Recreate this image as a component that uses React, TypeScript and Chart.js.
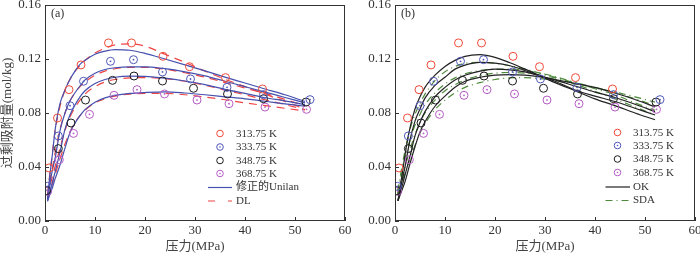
import React, { useEffect, useRef } from "react";
import { Chart, registerables } from "chart.js";
Chart.register(...registerables);

const SERIF = "'Liberation Serif', 'Times New Roman', 'Noto Sans CJK SC', serif";

// ---- measured data (same in both panels) ----
const TEMPS = ["313.75 K", "333.75 K", "348.75 K", "368.75 K"];
const P_313 = [0.8, 2.5, 4.8, 7.2, 12.7, 17.3, 23.6, 28.9, 36.1, 43.5];
const Q_313 = [0.0393, 0.0763, 0.0973, 0.1156, 0.1319, 0.1319, 0.122, 0.1143, 0.1062, 0.0978];
const P_333 = [0.47, 2.67, 5.0, 7.7, 13.1, 17.7, 23.5, 29.1, 36.4, 43.7, 53.0];
const Q_333 = [0.0257, 0.063, 0.0854, 0.1035, 0.1183, 0.1195, 0.1104, 0.1052, 0.099, 0.0936, 0.0899];
const P_348 = [0.33, 2.67, 5.2, 8.1, 13.5, 17.8, 23.5, 29.7, 36.5, 43.7, 52.2];
const Q_348 = [0.0225, 0.0536, 0.0726, 0.0896, 0.1042, 0.1074, 0.1037, 0.0983, 0.0941, 0.0906, 0.0881];
const P_368 = [0.53, 2.87, 5.7, 8.9, 13.8, 18.4, 23.9, 30.4, 36.8, 44.0, 52.3];
const Q_368 = [0.022, 0.0454, 0.0649, 0.079, 0.0931, 0.0973, 0.0941, 0.0896, 0.0869, 0.0844, 0.0827];

// ---- panel (a) model curves ----
const MODEL_P = [0.5, 1, 1.5, 2, 3, 4, 5, 6, 7, 8, 10, 12, 14, 17, 20, 24, 28, 32, 36, 40, 44, 48, 52];
const UNILAN_313 = [0.017, 0.035, 0.05, 0.067, 0.087, 0.097, 0.105, 0.111, 0.116, 0.119, 0.1235, 0.1258, 0.127, 0.1265, 0.1242, 0.12, 0.1157, 0.1112, 0.1066, 0.1022, 0.0978, 0.0935, 0.0885];
const UNILAN_333 = [0.016, 0.028, 0.038, 0.046, 0.067, 0.08, 0.089, 0.095, 0.1, 0.1045, 0.1095, 0.1122, 0.1135, 0.1142, 0.1142, 0.1128, 0.1105, 0.1075, 0.1035, 0.0995, 0.0955, 0.0915, 0.0875];
const UNILAN_348 = [0.015, 0.022, 0.029, 0.036, 0.051, 0.068, 0.0785, 0.086, 0.092, 0.0965, 0.1018, 0.1048, 0.1065, 0.1073, 0.1072, 0.1058, 0.1037, 0.101, 0.0975, 0.0945, 0.0913, 0.089, 0.0862];
const UNILAN_368 = [0.0145, 0.02, 0.025, 0.031, 0.0415, 0.054, 0.0655, 0.0725, 0.078, 0.0825, 0.088, 0.0912, 0.093, 0.0945, 0.0952, 0.0957, 0.0948, 0.0935, 0.092, 0.0905, 0.0887, 0.0868, 0.085];
const DL_313 = [0.02, 0.036, 0.051, 0.066, 0.085, 0.097, 0.105, 0.111, 0.115, 0.119, 0.1245, 0.128, 0.1305, 0.1312, 0.1295, 0.1235, 0.1175, 0.111, 0.105, 0.0995, 0.094, 0.0885, 0.083];
const DL_333 = [0.018, 0.03, 0.04, 0.05, 0.068, 0.08, 0.089, 0.095, 0.0995, 0.103, 0.108, 0.111, 0.1128, 0.1138, 0.1138, 0.1125, 0.1098, 0.1065, 0.1025, 0.0985, 0.0945, 0.09, 0.0855];
const DL_348 = [0.017, 0.026, 0.033, 0.04, 0.054, 0.067, 0.077, 0.084, 0.0895, 0.094, 0.0995, 0.103, 0.1048, 0.106, 0.1062, 0.1055, 0.1035, 0.1005, 0.097, 0.0935, 0.0898, 0.0862, 0.0825];
const DL_368 = [0.016, 0.023, 0.028, 0.034, 0.046, 0.057, 0.066, 0.073, 0.078, 0.082, 0.0875, 0.0905, 0.0925, 0.094, 0.0945, 0.0945, 0.0935, 0.0918, 0.0898, 0.0875, 0.0855, 0.0835, 0.0815];

// ---- panel (b) model curves ----
const OK_P = [0.6, 1, 1.5, 2, 3, 4, 5, 6, 8, 10, 12, 14, 17, 20, 23, 26, 29, 32, 36, 40, 44, 48, 52];
const OK_313 = [0.015, 0.025, 0.036, 0.049, 0.069, 0.083, 0.092, 0.099, 0.108, 0.1145, 0.119, 0.122, 0.1232, 0.1212, 0.1172, 0.1125, 0.1075, 0.1025, 0.0965, 0.0905, 0.0855, 0.08, 0.075];
const OK_333 = [0.015, 0.023, 0.031, 0.04, 0.06, 0.074, 0.083, 0.091, 0.1005, 0.1065, 0.1125, 0.1155, 0.1175, 0.117, 0.115, 0.1115, 0.1075, 0.1035, 0.097, 0.0925, 0.0885, 0.0835, 0.0785];
const OK_348 = [0.015, 0.021, 0.027, 0.034, 0.048, 0.063, 0.073, 0.081, 0.092, 0.099, 0.1045, 0.108, 0.111, 0.1125, 0.112, 0.1105, 0.1075, 0.1045, 0.1, 0.0955, 0.0915, 0.0865, 0.081];
const OK_368 = [0.015, 0.019, 0.024, 0.029, 0.0425, 0.055, 0.066, 0.0735, 0.085, 0.0925, 0.099, 0.1035, 0.1065, 0.108, 0.1085, 0.108, 0.1068, 0.1048, 0.102, 0.099, 0.0948, 0.09, 0.0845];
const SDA_P = [0.5, 1, 2, 3, 4, 5, 6, 8, 10, 12, 14, 17, 20, 23, 26, 29, 32, 36, 40, 44, 48, 52];
const SDA_313 = [0.022, 0.032, 0.052, 0.068, 0.079, 0.087, 0.094, 0.104, 0.1105, 0.1145, 0.1168, 0.1175, 0.1168, 0.115, 0.1125, 0.1095, 0.1065, 0.1015, 0.096, 0.0905, 0.0845, 0.0785];
const SDA_333 = [0.021, 0.029, 0.046, 0.06, 0.071, 0.079, 0.086, 0.095, 0.1015, 0.106, 0.109, 0.1115, 0.1125, 0.1125, 0.1115, 0.1095, 0.107, 0.1025, 0.098, 0.0935, 0.0875, 0.082];
const SDA_348 = [0.02, 0.026, 0.04, 0.053, 0.064, 0.073, 0.08, 0.0895, 0.0965, 0.101, 0.1045, 0.1078, 0.1095, 0.11, 0.1095, 0.108, 0.106, 0.1025, 0.099, 0.095, 0.0905, 0.0855];
const SDA_368 = [0.019, 0.024, 0.035, 0.046, 0.056, 0.065, 0.072, 0.0825, 0.0895, 0.095, 0.099, 0.1025, 0.1048, 0.106, 0.1062, 0.1055, 0.104, 0.1015, 0.0985, 0.0955, 0.092, 0.088];

const X_TICKS = [0, 10, 20, 30, 40, 50, 60];
const Y_TICKS = [0, 0.04, 0.08, 0.12, 0.16];

const C_RED = "#EE4A38";
const C_BLUE = "#5058B8";
const C_BLACK = "#1c1c1c";
const C_MAG = "#B45CC4";
const C_UNILAN = "#4650AE";
const C_DL = "#EE4444";
const C_OK = "#222222";
const C_SDA = "#4E8A3C";

const zip = (xs: number[], ys: number[]) => xs.map((x, i) => ({ x, y: ys[i] }));

const pointSets = [
  { p: P_313, q: Q_313, c: C_RED, dot: false },
  { p: P_333, q: Q_333, c: C_BLUE, dot: true },
  { p: P_348, q: Q_348, c: C_BLACK, dot: false },
  { p: P_368, q: Q_368, c: C_MAG, dot: true },
];

function pointDatasets() {
  return pointSets.map((s, i) => ({
    label: TEMPS[i],
    data: zip(s.p, s.q),
    showLine: false,
    pointRadius: 4,
    pointBorderWidth: 1,
    pointBackgroundColor: "rgba(0,0,0,0)",
    pointBorderColor: s.c,
    borderColor: s.c,
    dotted: s.dot,
  }));
}

function lineDataset(xs: number[], ys: number[], color: string, dash: number[]) {
  return {
    data: zip(xs, ys),
    showLine: true,
    pointRadius: 0,
    borderColor: color,
    borderWidth: 1.2,
    borderDash: dash,
    cubicInterpolationMode: "monotone",
    fill: false,
  };
}

const panelPlugin = {
  id: "panel",
  afterDatasetsDraw(chart: any) {
    const ctx = chart.ctx;
    chart.data.datasets.forEach((ds: any, i: number) => {
      if (!ds.dotted) return;
      const meta = chart.getDatasetMeta(i);
      ctx.save();
      ctx.fillStyle = ds.borderColor;
      meta.data.forEach((el: any) => {
        ctx.beginPath();
        ctx.arc(el.x, el.y, 0.9, 0, Math.PI * 2);
        ctx.fill();
      });
      ctx.restore();
    });
  },
  afterDraw(chart: any, _args: any, opts: any) {
    const { ctx, chartArea: a, scales } = chart;
    ctx.save();
    ctx.strokeStyle = "#333";
    ctx.lineWidth = 1;
    ctx.strokeRect(a.left + 0.5, a.top + 0.5, a.right - a.left - 1, a.bottom - a.top - 1);
    ctx.beginPath();
    scales.x.ticks.forEach((t: any) => {
      const px = Math.round(scales.x.getPixelForValue(t.value)) + 0.5;
      ctx.moveTo(px, a.bottom);
      ctx.lineTo(px, a.bottom - 4);
    });
    scales.y.ticks.forEach((t: any) => {
      const py = Math.round(scales.y.getPixelForValue(t.value)) + 0.5;
      ctx.moveTo(a.left, py);
      ctx.lineTo(a.left + 4, py);
    });
    ctx.stroke();

    // panel label
    ctx.fillStyle = "#333";
    ctx.font = `12px ${SERIF}`;
    ctx.textBaseline = "middle";
    ctx.textAlign = "left";
    ctx.fillText(opts.label, a.left + 6, a.top + 9);

    // legend
    const lg = opts.legend;
    ctx.font = `11px ${SERIF}`;
    lg.rows.forEach((r: any, i: number) => {
      const y = lg.y[i];
      if (r.kind === "marker") {
        ctx.strokeStyle = r.color;
        ctx.lineWidth = 1;
        ctx.beginPath();
        ctx.arc(lg.markerX, y, 3.3, 0, Math.PI * 2);
        ctx.stroke();
        if (r.dot) {
          ctx.fillStyle = r.color;
          ctx.beginPath();
          ctx.arc(lg.markerX, y, 0.8, 0, Math.PI * 2);
          ctx.fill();
        }
      } else {
        ctx.strokeStyle = r.color;
        ctx.lineWidth = 1.2;
        ctx.setLineDash(r.dash);
        ctx.beginPath();
        ctx.moveTo(lg.lineX0, y + 0.5);
        ctx.lineTo(lg.lineX1, y + 0.5);
        ctx.stroke();
        ctx.setLineDash([]);
      }
      ctx.fillStyle = "#333";
      ctx.fillText(r.text, lg.textX, y + 0.5);
    });
    ctx.restore();
  },
};

function makeOptions(showYTitle: boolean, rightPad: number, panelOpts: any) {
  const tickFont = { family: SERIF, size: 13 };
  return {
    animation: false,
    responsive: false,
    devicePixelRatio: 1,
    layout: { padding: { top: 5, right: rightPad, left: 0, bottom: 0 } },
    plugins: {
      legend: { display: false },
      tooltip: { enabled: false },
      panel: panelOpts,
    },
    scales: {
      x: {
        type: "linear",
        min: 0,
        max: 60,
        afterBuildTicks: (s: any) => {
          s.ticks = X_TICKS.map((v) => ({ value: v }));
        },
        ticks: { font: tickFont, color: "#333", padding: 2, maxRotation: 0, callback: (v: any) => String(v) },
        grid: { display: false, drawTicks: false },
        border: { display: false },
        title: {
          display: true,
          text: "压力(MPa)",
          font: { family: SERIF, size: 13 },
          color: "#444",
          padding: { top: 0, bottom: 0 },
        },
        afterFit: (s: any) => {
          s.height = 33;
          s.paddingLeft = 0;
          s.paddingRight = 0;
        },
      },
      y: {
        type: "linear",
        min: 0,
        max: 0.16,
        afterBuildTicks: (s: any) => {
          s.ticks = Y_TICKS.map((v) => ({ value: v }));
        },
        ticks: { font: tickFont, color: "#333", padding: 4, callback: (v: any) => Number(v).toFixed(2) },
        grid: { display: false, drawTicks: false },
        border: { display: false },
        title: {
          display: showYTitle,
          text: "过剩吸附量(mol/kg)",
          font: { family: SERIF, size: 13 },
          color: "#444",
          padding: { top: 0, bottom: 0 },
        },
        afterFit: (s: any) => {
          s.width = 45;
          s.paddingTop = 0;
          s.paddingBottom = 0;
        },
      },
    },
  };
}

function markerRows() {
  return pointSets.map((s, i) => ({ kind: "marker", color: s.c, dot: s.dot, text: TEMPS[i] }));
}

export default function App() {
  const leftRef = useRef<HTMLCanvasElement>(null);
  const rightRef = useRef<HTMLCanvasElement>(null);

  useEffect(() => {
    document.body.style.margin = "0";
    const left = new Chart(leftRef.current as HTMLCanvasElement, {
      type: "scatter",
      data: {
        datasets: [
          ...pointDatasets(),
          lineDataset(MODEL_P, UNILAN_313, C_UNILAN, []),
          lineDataset(MODEL_P, UNILAN_333, C_UNILAN, []),
          lineDataset(MODEL_P, UNILAN_348, C_UNILAN, []),
          lineDataset(MODEL_P, UNILAN_368, C_UNILAN, []),
          lineDataset(MODEL_P, DL_313, C_DL, [8, 6]),
          lineDataset(MODEL_P, DL_333, C_DL, [8, 6]),
          lineDataset(MODEL_P, DL_348, C_DL, [8, 6]),
          lineDataset(MODEL_P, DL_368, C_DL, [8, 6]),
        ] as any,
      },
      options: makeOptions(true, 15, {
        label: "(a)",
        legend: {
          markerX: 220,
          lineX0: 208,
          lineX1: 232,
          textX: 236,
          y: [133.5, 147, 160.5, 173.5, 187, 200.5],
          rows: [
            ...markerRows(),
            { kind: "line", color: C_UNILAN, dash: [], text: "修正的Unilan" },
            { kind: "line", color: C_DL, dash: [7, 13], text: "DL" },
          ],
        },
      }) as any,
      plugins: [panelPlugin],
    });
    const right = new Chart(rightRef.current as HTMLCanvasElement, {
      type: "scatter",
      data: {
        datasets: [
          ...pointDatasets(),
          lineDataset(OK_P, OK_313, C_OK, []),
          lineDataset(OK_P, OK_333, C_OK, []),
          lineDataset(OK_P, OK_348, C_OK, []),
          lineDataset(OK_P, OK_368, C_OK, []),
          lineDataset(SDA_P, SDA_313, C_SDA, [7, 4, 1, 4]),
          lineDataset(SDA_P, SDA_333, C_SDA, [7, 4, 1, 4]),
          lineDataset(SDA_P, SDA_348, C_SDA, [7, 4, 1, 4]),
          lineDataset(SDA_P, SDA_368, C_SDA, [7, 4, 1, 4]),
        ] as any,
      },
      options: makeOptions(false, 5, {
        label: "(b)",
        legend: {
          markerX: 267.5,
          lineX0: 255.5,
          lineX1: 280,
          textX: 283,
          y: [132.5, 145.5, 159, 172.5, 186.5, 200],
          rows: [
            ...markerRows(),
            { kind: "line", color: C_OK, dash: [], text: "OK" },
            { kind: "line", color: C_SDA, dash: [7, 4, 1, 4], text: "SDA" },
          ],
        },
      }) as any,
      plugins: [panelPlugin],
    });
    return () => {
      left.destroy();
      right.destroy();
    };
  }, []);

  return (
    <div style={{ position: "fixed", left: 0, top: 0, width: 700, height: 254, background: "#fff" }}>
      <canvas
        ref={leftRef}
        width={360}
        height={254}
        style={{ position: "absolute", left: 0, top: 0, display: "block", width: 360, height: 254 }}
      />
      <canvas
        ref={rightRef}
        width={350}
        height={254}
        style={{ position: "absolute", left: 350, top: 0, display: "block", width: 350, height: 254 }}
      />
    </div>
  );
}
